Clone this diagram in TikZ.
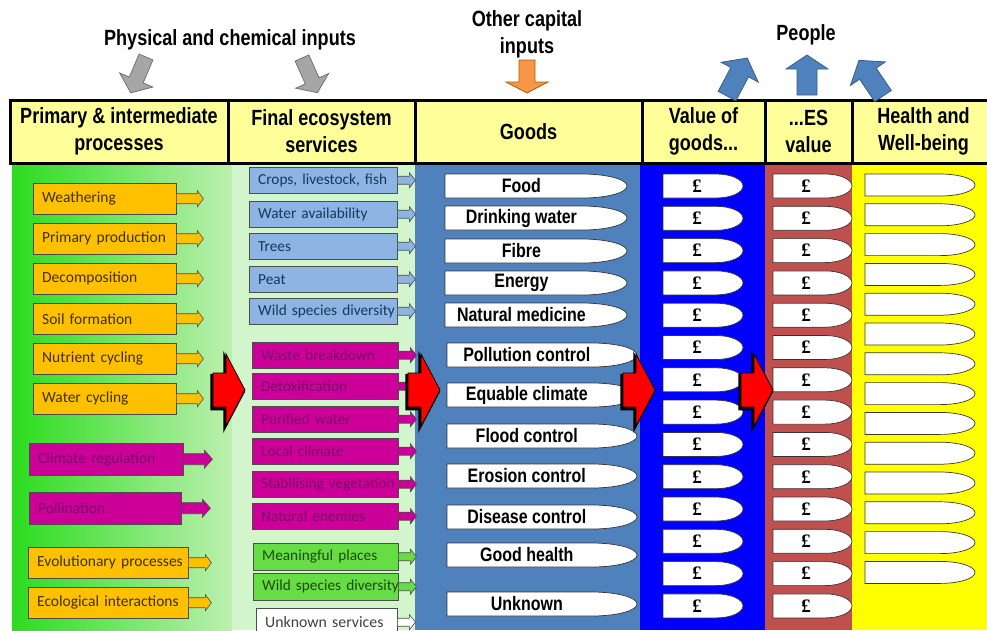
\documentclass[tikz,border=0pt]{standalone}
\usepackage{fontspec}
\setmainfont{Liberation Sans}
\newfontfamily\narrowbf{Liberation Sans}[FakeStretch=0.82]
\newfontfamily\calib{Carlito}
\newfontfamily\poundf{Liberation Serif}
\usepackage{xcolor}
\usepackage{tikz}

\definecolor{hdryellow}{HTML}{FFFF99}
\definecolor{gbright}{HTML}{2BDC1E}
\definecolor{glight}{HTML}{BDF0B0}
\definecolor{gpale}{HTML}{D3F5CB}
\definecolor{steel}{HTML}{4F81BD}
\definecolor{steeldark}{HTML}{385D8A}
\definecolor{purblue}{HTML}{0000FF}
\definecolor{brick}{HTML}{C0504D}
\definecolor{lemon}{HTML}{FFFF00}
\definecolor{ambre}{HTML}{FFC000}
\definecolor{ambretext}{HTML}{3F3000}
\definecolor{magent}{HTML}{CC0099}
\definecolor{magenttext}{HTML}{7A0A66}
\definecolor{skyb}{HTML}{8DB4E2}
\definecolor{skybtext}{HTML}{17375E}
\definecolor{leaf}{HTML}{66DD44}
\definecolor{leaftext}{HTML}{1D4A0A}
\definecolor{inputgray}{HTML}{A6A6A6}
\definecolor{caporange}{HTML}{F79646}

% block arrow: style, tail, angle, length, shaft half, head half, head length
\newcommand\blockarr[7]{%
  \draw[#1,shift={#2},rotate=#3] (0,-#5) -- ({#4-#7},-#5) -- ({#4-#7},-#6)
    -- (#4,0) -- ({#4-#7},#6) -- ({#4-#7},#5) -- (0,#5) -- cycle;}

% flat-left, round-pointed right box: style, x, y, w, h, rx
\newcommand\capsule[6]{%
  \filldraw[#1] (#2,#3) -- ({#2+#4-#6},#3)
    .. controls ({#2+#4-0.45*#6},#3) and ({#2+#4},{#3+0.22*#5}) .. ({#2+#4},{#3+#5/2})
    .. controls ({#2+#4},{#3+0.78*#5}) and ({#2+#4-0.45*#6},{#3+#5}) .. ({#2+#4-#6},{#3+#5})
    -- (#2,{#3+#5}) -- cycle;}

\newcommand\goodsitem[5]{%
  \capsule{capsule}{#2}{#3}{#4}{24}{45}
  \node[goodtxt] (#1) at ({#2+0.42*#4},{#3+12}) {#5};}

\begin{document}
\begin{tikzpicture}[x=1pt,y=-1pt,
  hdr/.style={draw,line width=3pt,fill=hdryellow,inner sep=0pt,minimum height=63pt,
    align=center,font=\narrowbf\bfseries\fontsize{22}{27}\selectfont},
  toplbl/.style={align=center,inner sep=0pt,font=\narrowbf\bfseries\fontsize{22}{27}\selectfont},
  oneline/.style={execute at begin node={\hbox\bgroup},execute at end node={\egroup}},
  proc/.style={draw=black!70,anchor=north west,inner xsep=9pt,inner ysep=0pt,align=left,
    text width=#1,oneline,font=\calib\fontsize{15.5}{18}\selectfont},
  svc/.style={draw=black!70,anchor=north west,inner xsep=9pt,inner ysep=0pt,align=left,
    text width=#1,oneline,font=\calib\fontsize{15.3}{17}\selectfont},
  orangebox/.style={proc=#1,fill=ambre,text=ambretext,minimum height=31pt},
  magbox/.style={proc=#1,fill=magent,text=magenttext,minimum height=32pt},
  bluesvc/.style={svc=130pt,fill=skyb,text=skybtext,minimum height=26pt},
  magsvc/.style={svc=128pt,fill=magent,text=magenttext,minimum height=26pt},
  greensvc/.style={svc=127pt,fill=leaf,text=leaftext,minimum height=27pt},
  whitesvc/.style={svc=123pt,fill=white,text=black!75,minimum height=28pt,
    font=\calib\fontsize{15.8}{18}\selectfont},
  smallarr/.style={draw=black!70,line width=0.6pt},
  capsule/.style={fill=white,draw=black!80,line width=0.7pt},
  goodtxt/.style={inner sep=0pt,font=\narrowbf\bfseries\fontsize{19.5}{22}\selectfont},
  pound/.style={inner sep=0pt,font=\poundf\bfseries\fontsize{19}{20}\selectfont},
  bigred/.style={fill=red,draw=black,line width=0.8pt},
  redshadow/.style={fill=black,draw=black,line width=2.5pt},
  inarr/.style={fill=inputgray,draw=black!55,line width=0.8pt},
  caparr/.style={fill=caporange,draw=orange!70!black,line width=0.8pt},
  peoplearr/.style={fill=steel,draw=steeldark,line width=0.8pt}]

  \useasboundingbox (0,0) rectangle (987,630);
  \clip (0,0) rectangle (987,630);
  \fill[white] (0,0) rectangle (987,630);

  % column backgrounds
  \shade[left color=gbright,right color=glight] (12,163) rectangle (232,630);
  \fill[gpale] (232,163) rectangle (415,630);
  \fill[steel] (415,163) rectangle (640,630);
  \fill[purblue] (640,163) rectangle (765,630);
  \fill[brick] (765,163) rectangle (852,630);
  \fill[lemon] (852,163) rectangle (987,630);

  % header row
  \node[hdr,minimum width=218pt] (hprim) at (119,131.5) {Primary \& intermediate\\processes};
  \node[hdr,minimum width=187pt] (hfinal) at (321.5,131.5) {Final ecosystem\\services};
  \node[hdr,minimum width=227pt] (hgoods) at (528.5,131.5) {Goods};
  \node[hdr,minimum width=123pt] (hvalue) at (703.5,131.5) {Value of\\goods...};
  \node[hdr,minimum width=87pt] (hes) at (808.5,131.5) {...ES\\value};
  \node[hdr,minimum width=143pt] (hhealth) at (923.5,131.5) {Health and\\Well-being};

  % inputs and people
  \node[toplbl] (physin) at (230,40) {Physical and chemical inputs};
  \node[toplbl] (capin) at (527,34) {Other capital\\inputs};
  \node[toplbl] (people) at (806,35) {People};
  \blockarr{inarr}{(146,57)}{-113}{39}{7.5}{18}{14}
  \blockarr{inarr}{(302,58)}{-66}{38}{7.5}{18}{13}
  \blockarr{caparr}{(527,60)}{-90}{33}{8}{21}{11}
  \blockarr{peoplearr}{(727,96)}{62}{43}{10}{21}{16}
  \blockarr{peoplearr}{(807,95)}{90}{40}{10}{21}{14}
  \blockarr{peoplearr}{(883,96)}{124}{43}{10}{21}{16}

  % primary & intermediate processes
  \node[orangebox=125pt] (weath) at (33,183) {Weathering};
  \node[orangebox=125pt] (prim) at (33,223) {Primary production};
  \node[orangebox=125pt] (decomp) at (33,263) {Decomposition};
  \node[orangebox=125pt] (soil) at (33,303) {Soil formation};
  \node[orangebox=125pt] (nutr) at (33,343) {Nutrient cycling};
  \node[orangebox=125pt] (watcyc) at (33,383) {Water cycling};
  \node[magbox=136pt] (climreg) at (29,443) {Climate regulation};
  \node[magbox=134pt] (pollin) at (29,492) {Pollination};
  \node[orangebox=142pt] (evol) at (28,547) {Evolutionary processes};
  \node[orangebox=142pt] (ecol) at (28,587) {Ecological interactions};
  \foreach \n in {weath,prim,decomp,soil,nutr,watcyc}
    {\blockarr{smallarr,fill=ambre}{(\n.east)}{0}{27}{5}{8}{6}}
  \foreach \n in {climreg,pollin}
    {\blockarr{smallarr,fill=magent}{(\n.east)}{0}{29}{5.5}{9}{8}}
  \foreach \n in {evol,ecol}
    {\blockarr{smallarr,fill=ambre}{(\n.east)}{0}{23}{5}{8}{6}}

  % final ecosystem services
  \node[bluesvc] (crops) at (249,167) {Crops, livestock, fish};
  \node[bluesvc] (wateravail) at (249,201) {Water availability};
  \node[bluesvc] (trees) at (249,233) {Trees};
  \node[bluesvc] (peat) at (249,266) {Peat};
  \node[bluesvc] (wildblue) at (249,298) {Wild species diversity};
  \node[magsvc] (waste) at (252,342) {Waste breakdown};
  \node[magsvc] (detox) at (252,373) {Detoxification};
  \node[magsvc] (purif) at (252,406) {Purified water};
  \node[magsvc] (localclim) at (252,438) {Local climate};
  \node[magsvc] (stabveg) at (252,471) {Stabilising vegetation};
  \node[magsvc] (natenem) at (252,503) {Natural enemies};
  \node[greensvc] (meaning) at (253,543) {Meaningful places};
  \node[greensvc] (wildgreen) at (253,573) {Wild species diversity};
  \node[whitesvc] (unknownsvc) at (256,608) {Unknown services};
  \foreach \n in {crops,wateravail,trees,peat,wildblue}
    {\blockarr{smallarr,fill=skyb}{(\n.east)}{0}{18}{4}{7.5}{6}}
  \foreach \n in {waste,detox,purif,localclim,stabveg,natenem}
    {\blockarr{smallarr,fill=magent}{(\n.east)}{0}{18}{4}{7.5}{6}}
  \foreach \n in {meaning,wildgreen}
    {\blockarr{smallarr,fill=leaf}{(\n.east)}{0}{18}{4}{7.5}{6}}
  \blockarr{smallarr,fill=white}{(unknownsvc.east)}{0}{18}{4}{7.5}{6}

  % goods
  \goodsitem{food}{445}{174}{182}{Food}
  \goodsitem{drinkw}{445}{206}{182}{Drinking water}
  \goodsitem{fibre}{445}{239}{182}{Fibre}
  \goodsitem{energy}{445}{271}{182}{Energy}
  \goodsitem{natmed}{445}{303}{182}{Natural medicine}
  \goodsitem{pollctl}{447}{343}{190}{Pollution control}
  \goodsitem{equclim}{447}{383}{190}{Equable climate}
  \goodsitem{floodctl}{447}{424}{190}{Flood control}
  \goodsitem{erosctl}{447}{464}{190}{Erosion control}
  \goodsitem{disctl}{447}{505}{190}{Disease control}
  \goodsitem{goodhlth}{447}{543}{190}{Good health}
  \goodsitem{unknowng}{447}{592}{190}{Unknown}

  % values and well-being
  \foreach \k [evaluate=\k as \yy using 174+32.3*\k] in {0,...,13} {
    \capsule{capsule}{663}{\yy}{80}{24}{27}
    \node[pound] (gval\k) at (697,{\yy+12}) {£};
    \capsule{capsule}{773}{\yy}{79}{24}{27}
    \node[pound] (esval\k) at (806,{\yy+12}) {£};
  }
  \foreach \k [evaluate=\k as \yy using 174+29.8*\k] in {0,...,13}
    {\capsule{capsule,draw=black!75!olive}{865}{\yy}{110}{22}{35}}

  % big red arrows between columns
  \foreach \x in {213,408,623,741} {
    \blockarr{redshadow}{({\x-1.5},392)}{0}{32}{17}{36}{19}
    \blockarr{bigred}{(\x,390)}{0}{32}{17}{36}{19}
  }
\end{tikzpicture}
\end{document}
